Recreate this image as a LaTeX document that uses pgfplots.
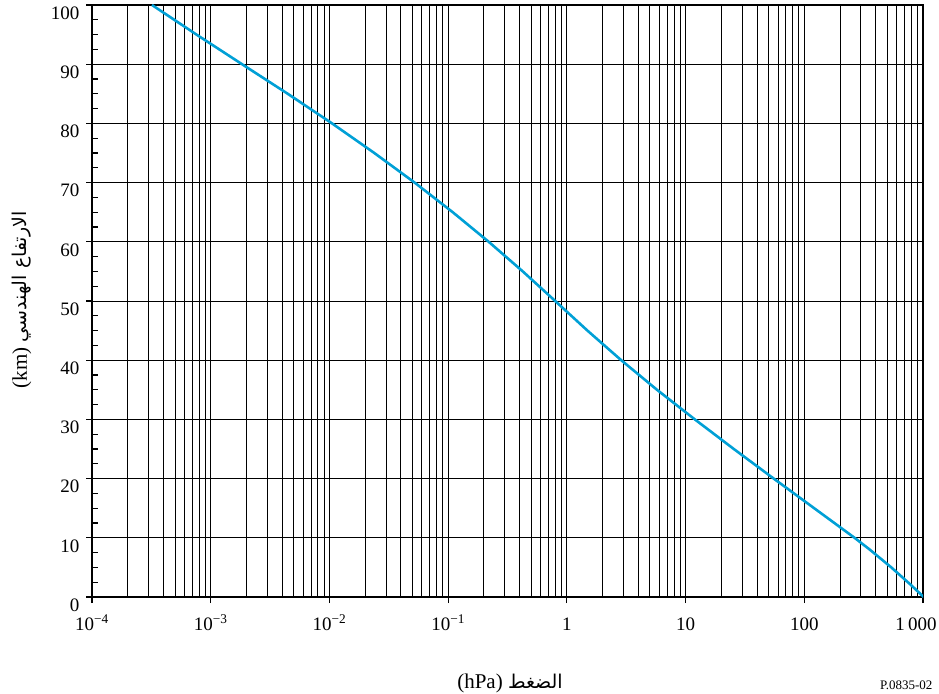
\documentclass[border=0pt]{standalone}
\usepackage{fontspec}
\setmainfont{Liberation Serif}
\newfontfamily\arabicfont[Script=Arabic]{DejaVu Sans}
\TeXXeTstate=1
\usepackage{pgfplots}
\pgfplotsset{compat=1.18}
\definecolor{curve}{RGB}{0,160,214}

\begin{document}
\begin{tikzpicture}
\path[use as bounding box] (-92pt,-96pt) rectangle (847pt,597pt);
\begin{semilogxaxis}[
  scale only axis, width=831pt, height=592pt,
  at={(0,0)}, anchor=south west,
  xmin=1e-4, xmax=1e3, ymin=0, ymax=100,
  xtick={1e-4,1e-3,1e-2,1e-1,1,10,100,1000},
  xticklabels={10\textsuperscript{−4},10\textsuperscript{−3},10\textsuperscript{−2},10\textsuperscript{−1},1,10,100,\makebox[0pt]{1\,000\hspace*{14pt}}},
  ytick={0,10,...,100},
  extra y ticks={2.5,5,7.5,12.5,15,17.5,22.5,25,27.5,32.5,35,37.5,42.5,45,47.5,52.5,55,57.5,62.5,65,67.5,72.5,75,77.5,82.5,85,87.5,92.5,95,97.5},
  extra y tick labels={},
  extra y tick style={grid=none, tick align=inside},
  xtick pos=bottom, ytick pos=left,
  tick align=outside,
  major tick length=6pt, minor tick length=0pt,
  xmajorgrids, xminorgrids, ymajorgrids,
  grid style={black, line width=0.9pt},
  minor grid style={black, line width=0.9pt},
  major grid style={black, line width=0.9pt},
  axis line style={black, line width=1.5pt},
  tick style={black, line width=1.2pt},
  /pgf/number format/assume math mode=true,
  tick label style={font=\fontsize{19}{19}\selectfont},
  yticklabel style={anchor=east, xshift=-3pt, yshift=-8pt},
  xticklabel style={anchor=base, yshift=-27pt},
]
\addplot[curve, line width=2.6pt] table {
p alt
1013.25 0
794.95 2
540.48 5
356.51 8
264.99 10
121.11 15
55.29 20
25.49 25
11.97 30
5.746 35
2.871 40
1.491 45
0.7978 50
0.4253 55
0.2196 60
0.1093 65
0.05221 70
0.02388 75
0.01052 80
0.004457 85
0.001836 90
0.0007597 95
0.0003201 100
};
\end{semilogxaxis}
\node[font=\fontsize{21}{21}\selectfont] at (418pt,-86pt) {(hPa) {\arabicfont\fontsize{19}{19}\selectfont\beginR الضغط\endR}};
\node[rotate=90, font=\fontsize{21}{21}\selectfont] at (-70pt,297pt) {(km) {\arabicfont\fontsize{19}{19}\selectfont\beginR الارتفاع الهندسي\endR}};
\node[anchor=east, font=\fontsize{13}{13}\selectfont] at (844pt,-88pt) {P.0835-02};
\end{tikzpicture}
\end{document}
